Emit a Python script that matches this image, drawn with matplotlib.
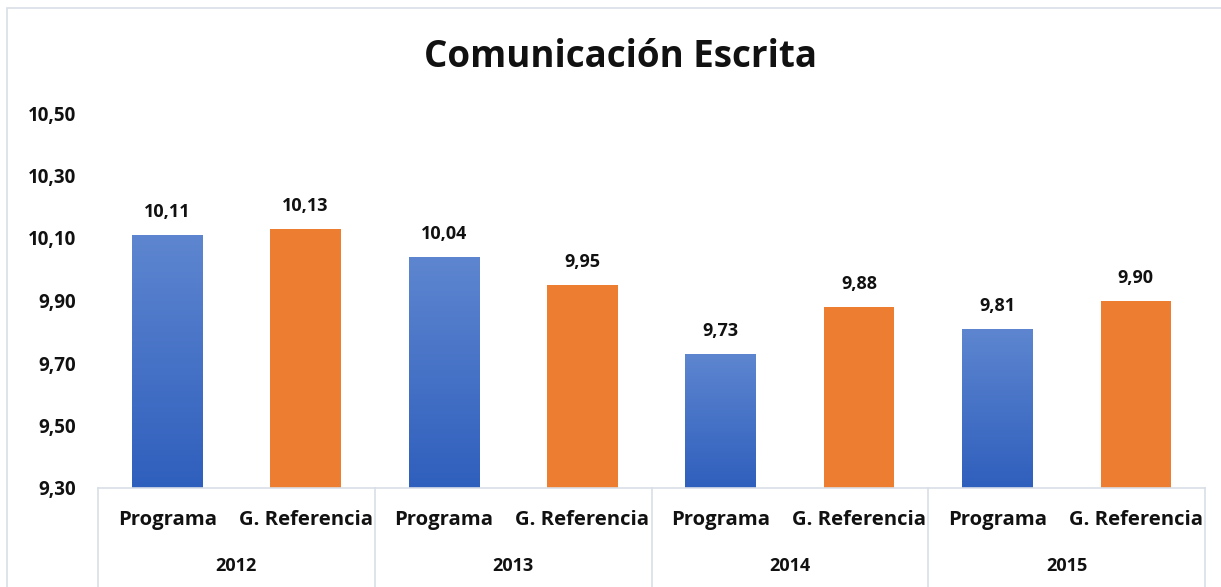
import matplotlib
matplotlib.use("Agg")
import matplotlib.pyplot as plt
import numpy as np
from matplotlib.patches import Rectangle
from matplotlib.lines import Line2D
from matplotlib.colors import LinearSegmentedColormap

plt.rcParams['font.family'] = ['Open Sans', 'DejaVu Sans']

title = "Comunicación Escrita"
years = ["2012", "2013", "2014", "2015"]
series_names = ["Programa", "G. Referencia"]
programa = [10.11, 10.04, 9.73, 9.81]
referencia = [10.13, 9.95, 9.88, 9.90]
yticks = [9.30, 9.50, 9.70, 9.90, 10.10, 10.30, 10.50]

W, H = 1221, 587
fig = plt.figure(figsize=(W / 100, H / 100), dpi=100)
fig.patch.set_facecolor("white")

# chart border
fig.add_artist(Rectangle((7 / W, -0.05), (W + 20) / W, (H - 8) / H + 0.05,
                         transform=fig.transFigure, fill=False,
                         edgecolor="#D9DEE6", linewidth=1.2))

left, right, top, bottom = 98, 1205, 113, 488
ax = fig.add_axes([left / W, 1 - bottom / H, (right - left) / W, (bottom - top) / H])
ax.set_xlim(-0.5, 7.5)
ax.set_ylim(9.30, 10.50)
for s in ["left", "right", "top"]:
    ax.spines[s].set_visible(False)
ax.spines["bottom"].set_color("#D9DEE6")
ax.spines["bottom"].set_linewidth(1.2)

ax.set_yticks(yticks)
ax.set_yticklabels([f"{v:.2f}".replace(".", ",") for v in yticks],
                   fontsize=13.5, fontweight="bold", color="#111111")
ax.tick_params(axis="y", length=0, pad=16)
ax.set_xticks([])

blue_cmap = LinearSegmentedColormap.from_list("b", ["#2F5FBD", "#5E86D0"])
orange = "#ED7D31"
bw = 0.51

def fmt(v):
    return f"{v:.2f}".replace(".", ",")

for i, y in enumerate(years):
    xp = 2 * i
    xr = 2 * i + 1
    bp = ax.bar(xp, programa[i] - 9.30, bottom=9.30, width=bw, color="none", edgecolor="none")[0]
    grad = np.linspace(0, 1, 256).reshape(-1, 1)
    im = ax.imshow(grad, cmap=blue_cmap, origin="lower", aspect="auto",
                   extent=[xp - bw / 2, xp + bw / 2, 9.30, programa[i]], zorder=2)
    im.set_clip_path(bp)
    ax.bar(xr, referencia[i] - 9.30, bottom=9.30, width=bw, color=orange, zorder=2)
    for x, v in [(xp, programa[i]), (xr, referencia[i])]:
        ax.annotate(fmt(v), (x, v), xytext=(0, 10), textcoords="offset points",
                    ha="center", va="bottom", fontsize=13, fontweight="bold", color="#111111")
    trans = ax.get_xaxis_transform()
    for x, name in [(xp, series_names[0]), (xr, series_names[1])]:
        ax.text(x, -32 / 375, name, transform=trans, ha="center", va="center",
                fontsize=14.6, fontweight="bold", color="#111111")
    ax.text(xp + 0.5, -78 / 375, y, transform=trans, ha="center", va="center",
            fontsize=13, fontweight="bold", color="#111111")

ax.set_xlim(-0.5, 7.5)
ax.set_ylim(9.30, 10.50)

trans = ax.get_xaxis_transform()
for xs in [-0.5, 1.5, 3.5, 5.5, 7.5]:
    ax.add_line(Line2D([xs, xs], [0, -0.28], transform=trans, clip_on=False,
                       color="#D9DEE6", linewidth=1.2))

fig.text(621 / W, 1 - 57 / H, title, ha="center", va="center",
         fontsize=26.5, fontweight="bold", color="#111111")

fig.savefig("out.png", dpi=100)
